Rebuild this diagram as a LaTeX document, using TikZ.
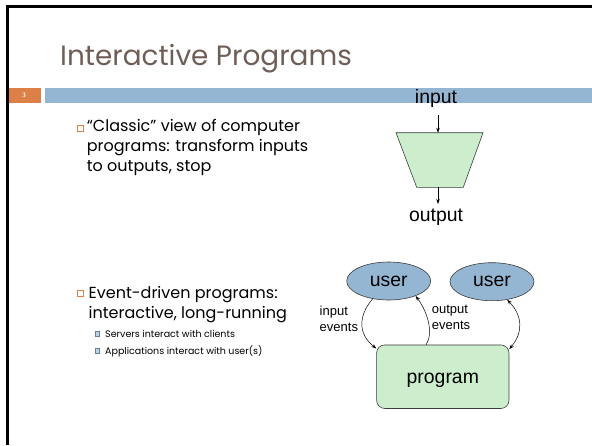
\documentclass[tikz,border=0pt]{standalone}
\usepackage{fontspec}
\setmainfont{Poppins}
\newfontfamily\arialf{Liberation Sans}
\newfontfamily\seriff{Liberation Serif}
\usetikzlibrary{arrows.meta,calc,shapes.geometric}
\definecolor{titlebrown}{RGB}{111,94,87}
\definecolor{barblue}{RGB}{148,182,210}
\definecolor{slideorange}{RGB}{221,128,71}
\definecolor{boxgreen}{RGB}{204,238,204}
\definecolor{edgegray}{RGB}{60,60,60}
\tikzset{
 arr/.style={-{Stealth[length=5pt,width=3.5pt]}, line width=0.5pt},
 biarr/.style={{Stealth[length=5pt,width=3.5pt]}-{Stealth[length=5pt,width=3.5pt]}, line width=0.5pt},
 bodytext/.style={inner sep=0, anchor=base west, align=left, font=\fontsize{16}{20}\selectfont},
 subtext/.style={inner sep=0, anchor=base west, font=\fontsize{9.5}{12}\selectfont},
 obullet/.style={draw=slideorange, line width=0.8pt, minimum size=5.5pt, inner sep=0},
 sbullet/.style={draw=barblue!70!black, fill=barblue!60, line width=0.6pt, minimum size=4.5pt, inner sep=0},
 userell/.style={ellipse, draw=edgegray, line width=0.6pt, fill=barblue, minimum width=84pt, minimum height=38pt, inner sep=0, font=\arialf\fontsize{19.4}{22}\selectfont},
 diaglabel/.style={inner sep=0, font=\arialf\fontsize{19.4}{22}\selectfont},
 evlabel/.style={inner sep=0, anchor=base west, align=left, font=\arialf\fontsize{13}{16}\selectfont},
}
\begin{document}
\begin{tikzpicture}[x=1pt,y=-1pt]
\useasboundingbox (0,0) rectangle (592,445);
\fill[white] (0,0) rectangle (592,445);
% header
\node[inner sep=0, anchor=base west, text=titlebrown, font=\fontsize{27.9}{30}\selectfont] (title) at (60,65) {Interactive Programs};
\fill[barblue] (45,88) rectangle (592,103);
\node[fill=slideorange, minimum width=34pt, minimum height=15pt, inner sep=0, text=white, font=\seriff\bfseries\fontsize{7}{8}\selectfont] (num) at (24,95.5) {3};
\draw[line width=3pt, line join=miter] (7.5,445) -- (7.5,6.7) -- (592,6.7);
% bullets (multi-line nodes: base = last line)
\node[obullet] (b1) at (80.3,128.5) {};
\node[bodytext] (t1) at (86.7,171.5) {“Classic” view of computer\\programs: transform inputs\\to outputs, stop};
\node[obullet] (b2) at (80.3,293.5) {};
\node[bodytext] (t2) at (88.5,318) {Event-driven programs:\\interactive, long-running};
\node[sbullet] (s1) at (97.5,334) {};
\node[subtext] (st1) at (105,337) {Servers interact with clients};
\node[sbullet] (s2) at (97.5,351) {};
\node[subtext] (st2) at (105,354) {Applications interact with user(s)};
% classic diagram
\draw[fill=boxgreen, draw=edgegray, line width=0.6pt] (396,132.7) -- (483,132.7) -- (463.3,187.3) -- (416.7,187.3) -- cycle;
\coordinate (traptop) at (438,132.7);
\coordinate (trapbot) at (438,187.3);
\node[diaglabel, anchor=base] (inp) at (436,103) {input};
\node[diaglabel, anchor=base] (outp) at (436,221.7) {output};
\draw[arr] ($(inp.south -| traptop)+(0,8)$) -- (traptop);
\draw[arr] (trapbot) -- ($(outp.north -| trapbot)+(0,-5)$);
% event-driven diagram
\node[userell] (u1) at (388.7,281) {user};
\node[userell] (u2) at (492,281.7) {user};
\node[draw=edgegray, line width=0.6pt, fill=boxgreen, rounded corners=8pt, minimum width=132.3pt, minimum height=63.5pt, inner sep=0, text height=18pt, text depth=4pt, font=\arialf\fontsize{19.4}{22}\selectfont] (prog) at (442.8,376.7) {program};
\node[evlabel] (inev) at (319.5,331) {input\\events};
\node[evlabel] (outev) at (431.7,329) {output\\events};
\draw[arr] (u1.228) .. controls (358,316) and (358,334) .. ($(prog.north west)!0.06!(prog.south west)$);
\draw[arr] ($(prog.north west)!0.375!(prog.north east)$) .. controls (434,332) and (427,311) .. (u1.331);
\draw[biarr] (u2.310) .. controls (523,316) and (523,333) .. ($(prog.north east)!0.07!(prog.south east)$);
\end{tikzpicture}
\end{document}
